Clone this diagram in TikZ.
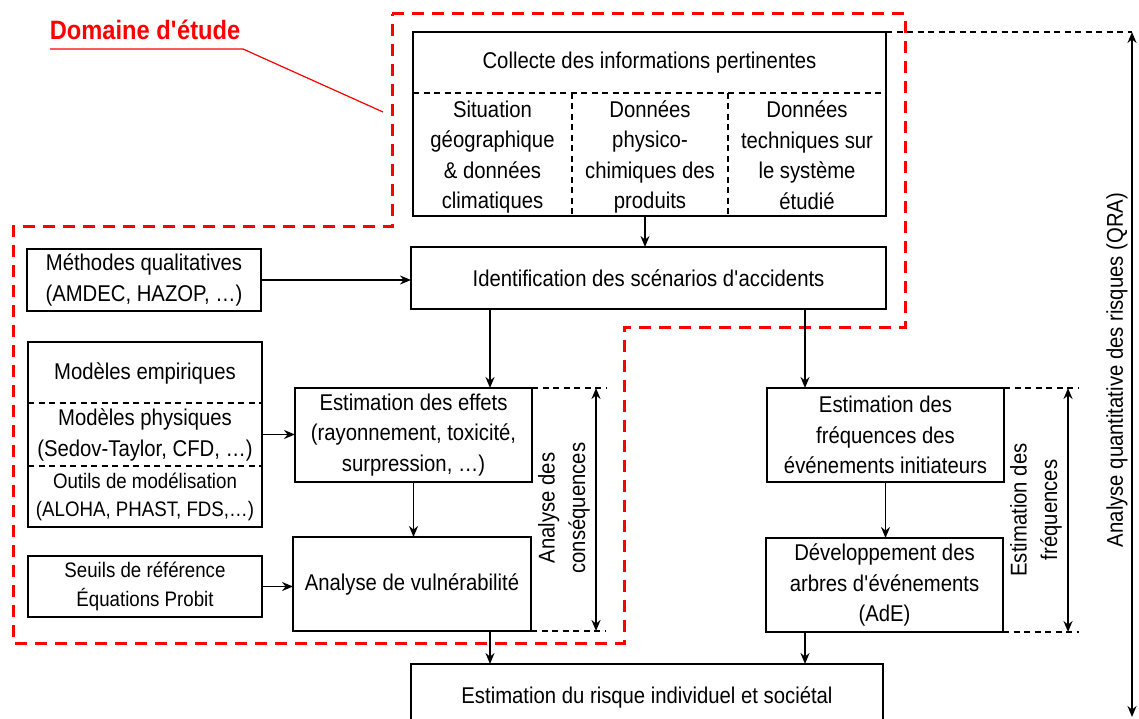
\documentclass[tikz,border=0pt]{standalone}
\usepackage{fontspec}
\setmainfont[FakeStretch=0.89]{Liberation Sans}
\usetikzlibrary{arrows.meta}
\newcommand\fA{\fontsize{22.8pt}{30.5pt}\selectfont}
\newcommand\fB{\fontsize{21pt}{28.5pt}\selectfont}
\newcommand\fR{\fontsize{26.6pt}{30pt}\selectfont\bfseries}
\newcommand\ap{\textquotesingle}
\begin{document}
\begin{tikzpicture}[x=1pt,y=-1pt,
 box/.style={draw=black, line width=1.9pt, inner sep=0pt, outer sep=0pt, anchor=north west, align=center, font=\fA},
 txt/.style={inner sep=0pt, align=center, font=\fA},
 arr/.style={draw=black, line width=1.8pt, -{Stealth[length=11pt,width=9pt]}},
 darr/.style={draw=black, line width=1.8pt, {Stealth[length=11pt,width=9pt]}-{Stealth[length=11pt,width=9pt]}},
 dsh/.style={draw=black, line width=1.5pt, dash pattern=on 6pt off 4.5pt},
 rdash/.style={draw=red, line width=3pt, dash pattern=on 12pt off 8pt},
]
\useasboundingbox (0,0) rectangle (1139,719);
\clip (0,0) rectangle (1139,719);
\fill[white] (0,0) rectangle (1139,719);

% domain of study
\draw[rdash] (392,14) -- (905,14) -- (905,327) -- (624,327) -- (624,643) -- (13,643) -- (13,227) -- (392,227) -- cycle;
\node[font=\fR, text=red, anchor=base, inner sep=0pt] (dom) at (145,40) {Domaine d\ap étude};
\coordinate (ulA) at (50,49);
\coordinate (ulB) at (243,49);
\coordinate (ulC) at (383,112);
\draw[red, line width=1.2pt] (ulA) -- (ulB) -- (ulC);

% collecte
\node[box, minimum width=473pt, minimum height=184pt] (col) at (413,32) {};
\draw[dsh] (413,93) -- (886,93);
\draw[dsh] (572,93) -- (572,216);
\draw[dsh] (728,93) -- (728,216);
\node[txt] (colT) at (649.5,63) {Collecte des informations pertinentes};
\node[txt] (c1) at (492.5,157) {Situation\\géographique\\\& données\\climatiques};
\node[txt] (c2) at (650,157) {Données\\physico-\\chimiques des\\produits};
\node[txt] (c3) at (807,155) {Données\\techniques sur\\le système\\étudié};

% boxes
\node[box, minimum width=475pt, minimum height=62pt] (ide) at (411,247) {Identification des scénarios d\ap accidents};
\node[box, minimum width=234pt, minimum height=62pt] (met) at (27,249) {Méthodes qualitatives\\(AMDEC, HAZOP, …)};

\node[box, minimum width=234pt, minimum height=185pt] (grp) at (28,342) {};
\draw[dsh] (28,403) -- (262,403);
\draw[dsh] (28,466) -- (262,466);
\node[txt] (g1) at (145,373) {Modèles empiriques};
\node[txt] (g2) at (145,435) {Modèles physiques\\(Sedov-Taylor, CFD, …)};
\node[txt, font=\fB] (g3) at (145,497) {Outils de modélisation\\(ALOHA, PHAST, FDS,…)};

\node[box, minimum width=237pt, minimum height=94pt] (eff) at (295,388) {Estimation des effets\\(rayonnement, toxicité,\\surpression, …)};
\node[box, minimum width=238pt, minimum height=94pt] (vul) at (293,537) {Analyse de vulnérabilité};
\node[box, minimum width=234pt, minimum height=61pt, font=\fB] (seu) at (28,556) {Seuils de référence\\Équations Probit};

\node[box, minimum width=237pt, minimum height=94pt] (fre) at (767,388) {Estimation des\\fréquences des\\événements initiateurs};
\node[box, minimum width=237pt, minimum height=94pt] (dev) at (766,538) {Développement des\\arbres d\ap événements\\(AdE)};

\node[box, minimum width=472pt, minimum height=66pt] (ris) at (411,664) {Estimation du risque individuel et sociétal};

% arrows
\coordinate (x645) at (645,0);
\coordinate (x490) at (490,0);
\coordinate (x805) at (805,0);
\draw[arr] (col.south -| x645) -- (ide.north -| x645);
\draw[arr] (met.east) -- (met.east -| ide.west);
\draw[arr] (ide.south -| x490) -- (eff.north -| x490);
\draw[arr] (ide.south -| x805) -- (fre.north -| x805);
\draw[arr] (grp.east) -- (grp.east -| eff.west);
\draw[arr] (eff.south) -- (eff.south |- vul.north);
\draw[arr] (seu.east) -- (seu.east -| vul.west);
\draw[arr] (fre.south) -- (fre.south |- dev.north);
\draw[arr] (vul.south -| x490) -- (ris.north -| x490);
\draw[arr] (dev.south -| x805) -- (ris.north -| x805);

% consequences
\coordinate (cA) at (606,388);
\coordinate (cB) at (606,631);
\coordinate (dA) at (596,388);
\coordinate (dB) at (596,631);
\draw[dsh] (eff.north east) -- (cA);
\draw[dsh] (vul.south east) -- (cB);
\draw[darr] (dA) -- (dB);
\node[txt, rotate=90] (lac) at (564,508) {Analyse des\\conséquences};

% frequencies
\coordinate (fA) at (1079,388);
\coordinate (fB) at (1079,632);
\coordinate (eA) at (1068,388);
\coordinate (eB) at (1068,632);
\draw[dsh] (fre.north east) -- (fA);
\draw[dsh] (dev.south east) -- (fB);
\draw[darr] (eA) -- (eB);
\node[txt, rotate=90] (lef) at (1036,510) {Estimation des\\fréquences};

% QRA
\coordinate (qA) at (1132,32);
\coordinate (qB) at (1132,717);
\draw[dsh] (col.north east) -- (qA);
\draw[darr] (qA) -- (qB);
\node[txt, rotate=90] (lqr) at (1117,370) {Analyse quantitative des risques (QRA)};
\end{tikzpicture}
\end{document}
